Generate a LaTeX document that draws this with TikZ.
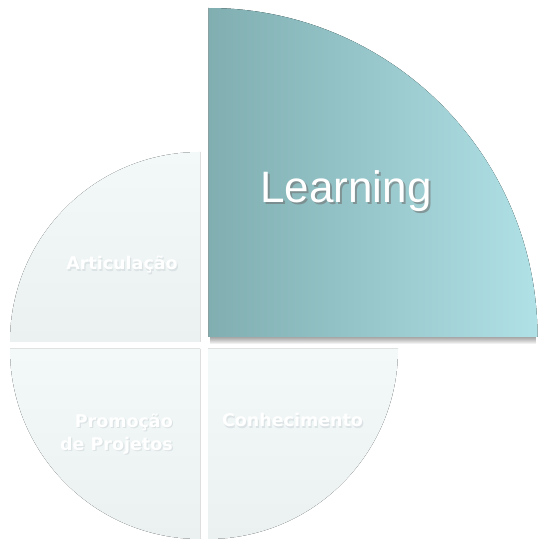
\documentclass[tikz,border=0pt]{standalone}
\usepackage{fontspec}
\usepackage{tikz}
\usetikzlibrary{calc}
\newfontfamily\learnfont{Liberation Sans}
\newfontfamily\petalfont{DejaVu Sans}
\definecolor{petaltop}{HTML}{F3F9F9}
\definecolor{petalbot}{HTML}{EBF0F1}
\definecolor{learnleft}{HTML}{80AEB1}
\definecolor{learnright}{HTML}{B0E1E6}
\definecolor{petalshade}{HTML}{DCE3E4}
\newcommand{\petal}[4]{\fill[petaltop] ( #1 , #2 ) -- ++( #3 :190) arc[start angle= #3 , end angle= #4 , radius=190] -- cycle; \fill[top color=petaltop, bottom color=petalbot] ( #1 , #2 ) -- ++( #3 :190) arc[start angle= #3 , end angle= #4 , radius=190] -- cycle;}
\newcommand{\petaltext}[3]{\node[petaltxt, text=petalshade] at ($(#1)+(1.2,-1.2)$) {#3}; \node[petaltxt] (#2) at (#1) {#3};}
\tikzset{
  petaltxt/.style={text=white, font=\petalfont\bfseries\fontsize{17.5}{23}\selectfont, inner sep=0pt, anchor=base},
  learntxt/.style={text=white, font=\learnfont\fontsize{44}{50}\selectfont, inner sep=0pt, anchor=base}
}

\begin{document}
\begin{tikzpicture}[x=1pt, y=1pt]
        \useasboundingbox (0,0) rectangle (539,542);
        % faded quarters
        \petal{200}{200}{90}{180}
        \petal{200}{193}{180}{270}
        \petal{208}{193}{270}{360}
        % shadow of the big quarter
        \foreach \d in {1,...,7}
            \fill[black, opacity=0.06] (210,205-\d) -- ++(0:326) arc[start angle=0, end angle=90, radius=326] -- cycle;
        % big quarter
        \fill[learnright!70!learnleft] (208.5,205) -- ++(0:329) arc[start angle=0, end angle=90, radius=329] -- cycle;
        \fill[left color=learnleft, right color=learnright] (208.5,205) -- ++(0:329) arc[start angle=0, end angle=90, radius=329] -- cycle;
        % labels
        \coordinate (artpos) at (122,272);
        \coordinate (conpos) at (292.5,115);
        \petaltext{artpos}{articulacao}{Articulação}
        \petaltext{conpos}{conhecimento}{Conhecimento}
        \node[petaltxt, text=petalshade, align=right, anchor=base east] at (174.2,90.8) {Promoção\\de Projetos};
        \node[petaltxt, align=right, anchor=base east] (promocao) at (173,92) {Promoção\\de Projetos};
        \node[learntxt, text=black!55, opacity=0.6] at (348,337) {Learning};
        \node[learntxt] (learning) at (346,339) {Learning};
\end{tikzpicture}
\end{document}
